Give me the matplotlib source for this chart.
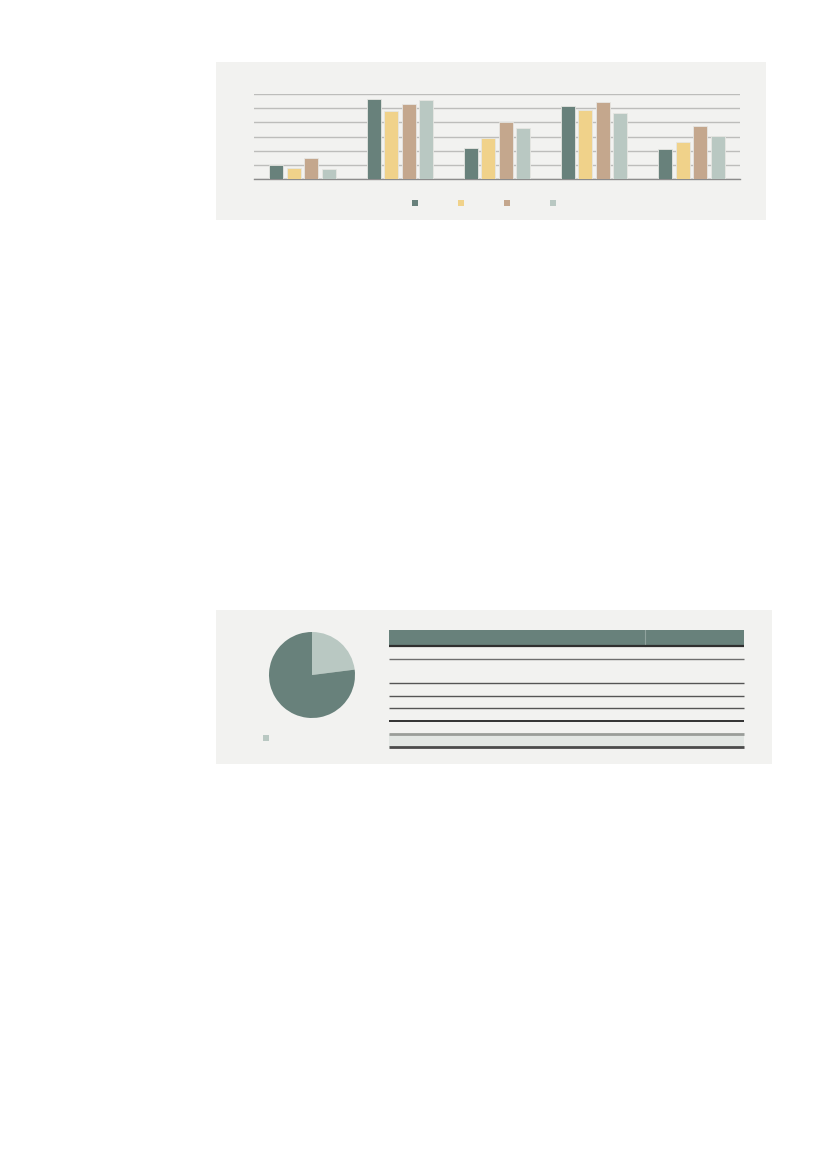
import matplotlib.pyplot as plt
import numpy as np
from matplotlib.patches import Rectangle

W, H = 827, 1169

# data (no text in the reference)
groups = [0, 1, 2, 3, 4]
series_a = [1.0, 5.67, 2.18, 5.18, 2.09]
series_b = [0.8, 4.78, 2.88, 4.87, 2.58]
series_c = [1.5, 5.3, 4.0, 5.46, 3.77]
series_d = [0.7, 5.58, 3.59, 4.66, 3.05]
pie_values = [23, 77]
table_rows = [15.5, 13.5, 24, 13, 12, 13, 13, 13]   # row heights, header first

dark, yellow, tan, light = '#68817b', '#f0d28a', '#c4a78d', '#b9c8c2'
panel = '#f2f2f0'


def px_axes(fig, x0, y0, x1, y1, z=1):
    # axes from pixel box (top-left origin)
    return fig.add_axes([x0 / W, 1 - y1 / H, (x1 - x0) / W, (y1 - y0) / H], zorder=z)


fig = plt.figure(figsize=(W / 100, H / 100), dpi=100)
fig.patch.set_facecolor('white')

# grey panels as background axes
for (x0, y0, x1, y1) in [(216, 62, 766, 220), (216, 610, 772, 764)]:
    bg = px_axes(fig, x0, y0, x1, y1, z=0)
    bg.set_facecolor(panel)
    bg.set_xticks([])
    bg.set_yticks([])
    for s in bg.spines.values():
        s.set_visible(False)

# --- bar chart ---
ax = px_axes(fig, 254, 94, 740, 179)
ax.set_facecolor('none')
x = np.array(groups)
step, bw = 0.18, 0.145
for k, (vals, col) in enumerate(zip([series_a, series_b, series_c, series_d],
                                    [dark, yellow, tan, light])):
    ax.bar(x + (k - 1.5) * step, vals, bw, color=col, edgecolor='#e6e6e2',
           linewidth=0.6, zorder=3)
ax.set_xlim(-0.5, 4.5)
ax.set_ylim(0, 6)
ax.set_yticks(range(0, 7))
ax.yaxis.grid(True, color='#bdbdbb', linewidth=1.0, zorder=0)
ax.set_axisbelow(True)
for s in ['top', 'right', 'left']:
    ax.spines[s].set_visible(False)
ax.spines['bottom'].set_color('#8c8c8c')
ax.spines['bottom'].set_linewidth(1.0)
ax.tick_params(left=False, bottom=False, labelleft=False, labelbottom=False)

# legend keys
lg = px_axes(fig, 415, 198, 553, 208)
lg.scatter(range(4), [0] * 4, marker='s', s=14, c=[dark, yellow, tan, light],
           linewidths=0, clip_on=False)
lg.set_xlim(0, 3)
lg.set_ylim(-1, 1)
lg.axis('off')

# --- pie ---
pa = px_axes(fig, 269, 632, 355, 718)
pa.pie(pie_values, colors=[light, dark], startangle=90, counterclock=False,
       radius=1, wedgeprops=dict(linewidth=0))
pa.set_xlim(-1, 1)
pa.set_ylim(-1, 1)
pa.set_aspect('equal')
pa.axis('off')

pl = px_axes(fig, 262, 734, 270, 742)
pl.scatter([0], [0], marker='s', s=14, c=[light], linewidths=0)
pl.set_xlim(-1, 1)
pl.set_ylim(-1, 1)
pl.axis('off')

# --- table (empty cells) ---
ta = px_axes(fig, 389, 630, 744, 747)
ta.set_facecolor('none')
edges = np.concatenate([[0], np.cumsum(table_rows)])
ta.set_xlim(0, 1)
ta.set_ylim(edges[-1], 0)
split = 256 / 355
ta.add_patch(Rectangle((0, edges[0]), 1, table_rows[0], facecolor=dark, edgecolor='none'))
ta.add_patch(Rectangle((0, edges[-2]), 1, table_rows[-1], facecolor='#e2e6e3', edgecolor='none'))
ta.plot([split, split], [edges[0], edges[1]], color='#8fa29d', lw=0.8)
line_styles = [('#2f2f2f', 1.6), ('#6e6e6e', 1.0), ('#555555', 1.0), ('#555555', 1.0),
               ('#555555', 1.0), ('#111111', 1.2), ('#9a9d99', 2.0), ('#4a4a4a', 2.0)]
for yv, (c, lw) in zip(edges[1:], line_styles):
    ta.hlines(yv, 0, 1, color=c, linewidth=lw, clip_on=False)
ta.axis('off')

fig.savefig('out.png', dpi=100, facecolor='white')
